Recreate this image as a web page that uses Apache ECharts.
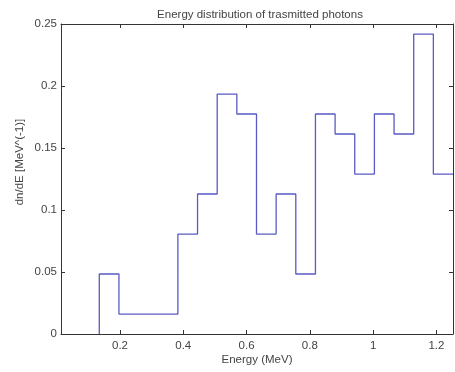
<!DOCTYPE html>
<html>
<head>
<meta charset="utf-8">
<script src="https://cdn.jsdelivr.net/npm/echarts@6/dist/echarts.min.js"></script>
<style>
  html, body { margin: 0; padding: 0; background: #fff; }
  #chart { width: 455px; height: 372px; }
</style>
</head>
<body>
<div id="chart"></div>
<script>
// bin edges (MeV) and dn/dE value of each bin
const binEdges = [0.1346, 0.1967, 0.2588, 0.3209, 0.383, 0.4451, 0.5072, 0.5693, 0.6314,
  0.6935, 0.7556, 0.8177, 0.8798, 0.9419, 1.004, 1.0661, 1.1282, 1.1903, 1.2524];
const binValues = [0.0484, 0.0161, 0.0161, 0.0161, 0.0806, 0.1129, 0.1935, 0.1774, 0.0806,
  0.1129, 0.0484, 0.1774, 0.1613, 0.129, 0.1774, 0.1613, 0.2419, 0.129];
const xTicks = [0.2, 0.4, 0.6, 0.8, 1, 1.2];
const yTicks = [0, 0.05, 0.1, 0.15, 0.2, 0.25];

const xMin = 0.0136, xMax = 1.2524;
const textColor = '#444';
const font = 'Liberation Sans';
const fs = 11.5;

// step points: rise from zero at the first edge, then one point per edge
const points = [[binEdges[0], 0]];
binEdges.forEach((e, i) => {
  points.push([e, binValues[Math.min(i, binValues.length - 1)]]);
});

const axisLine = { show: true, onZero: false, lineStyle: { color: '#333', width: 1 } };
const tick = (vals) => ({ show: true, inside: true, length: 4, customValues: vals, lineStyle: { color: '#333' } });

const chart = echarts.init(document.getElementById('chart'));
chart.setOption({
  animation: false,
  backgroundColor: '#fff',
  textStyle: { fontFamily: font },
  title: {
    text: 'Energy distribution of trasmitted photons',
    left: 255, top: 4, textAlign: 'center',
    textStyle: { fontSize: fs, fontWeight: 'normal', color: textColor, fontFamily: font }
  },
  grid: { left: 61, top: 24, right: 2, bottom: 38 },
  xAxis: [{
    type: 'value', min: xMin, max: xMax,
    name: 'Energy (MeV)', nameLocation: 'middle', nameGap: 20, nameMoveOverlap: false,
    nameTextStyle: { fontSize: fs, color: textColor, fontFamily: font },
    axisLine, axisTick: tick(xTicks),
    axisLabel: { customValues: xTicks, fontSize: fs, color: textColor, margin: 6, fontFamily: font },
    splitLine: { show: false }
  }, {
    type: 'value', min: xMin, max: xMax, position: 'top',
    axisLine, axisTick: tick(xTicks), axisLabel: { show: false }, splitLine: { show: false }
  }],
  yAxis: [{
    type: 'value', min: 0, max: 0.25, interval: 0.05,
    name: 'dn/dE [MeV^(-1)]', nameLocation: 'middle', nameGap: 35, nameRotate: 90, nameMoveOverlap: false,
    nameTextStyle: { fontSize: fs, color: textColor, fontFamily: font, padding: [0, 0, 0, 34] },
    axisLine, axisTick: tick(yTicks),
    axisLabel: { fontSize: fs, color: textColor, margin: 4, fontFamily: font },
    splitLine: { show: false }
  }, {
    type: 'value', min: 0, max: 0.25, interval: 0.05, position: 'right',
    axisLine, axisTick: tick(yTicks), axisLabel: { show: false }, splitLine: { show: false }
  }],
  series: [{
    type: 'line',
    step: 'end',
    data: points,
    symbol: 'none',
    lineStyle: { color: '#5a5ac4', width: 1.3 },
    clip: true
  }]
});
</script>
</body>
</html>
